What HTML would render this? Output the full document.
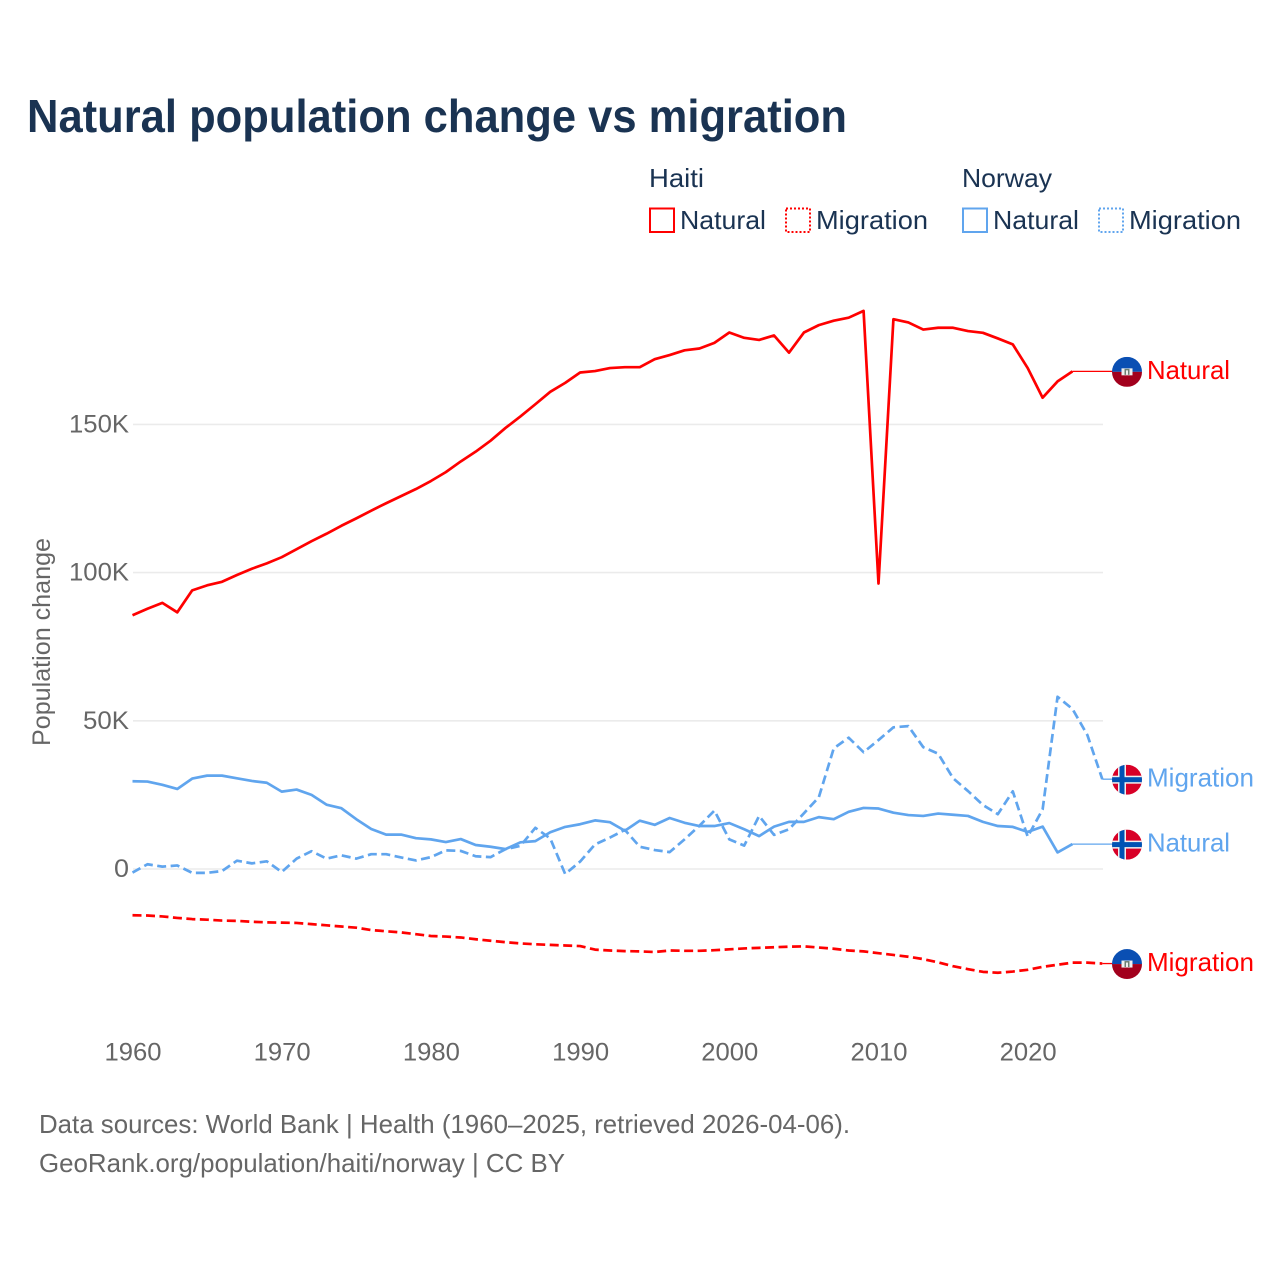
<!DOCTYPE html>
<html lang="en">
<head>
<meta charset="utf-8">
<title>Natural population change vs migration</title>
<style>
html,body{margin:0;padding:0;background:#fff;}
svg{display:block;font-family:"Liberation Sans",sans-serif;}
</style>
</head>
<body>
<svg id="chart" xmlns="http://www.w3.org/2000/svg" width="1280" height="1280" viewBox="0 0 1280 1280">
  <defs>
    <clipPath id="flag-clip"><circle cx="0" cy="0" r="15"/></clipPath>
  </defs>
  <rect x="0" y="0" width="1280" height="1280" fill="#fff"/>
  <text x="27" y="132" font-size="46" font-weight="700" fill="#1a3352" textLength="820" lengthAdjust="spacingAndGlyphs">Natural population change vs migration</text>

  <g font-size="26" fill="#1a3352">
    <text x="649" y="187" textLength="55" lengthAdjust="spacingAndGlyphs">Haiti</text>
    <text x="962" y="187" textLength="90" lengthAdjust="spacingAndGlyphs">Norway</text>
    <rect x="650" y="208.500" width="24" height="23.500" fill="none" stroke="#ff0000" stroke-width="2"/>
    <text x="680" y="229" textLength="86" lengthAdjust="spacingAndGlyphs">Natural</text>
    <rect x="786" y="208.500" width="24" height="23.500" fill="none" stroke="#ff0000" stroke-width="2" stroke-dasharray="2,2"/>
    <text x="816" y="229" textLength="112" lengthAdjust="spacingAndGlyphs">Migration</text>
    <rect x="963" y="208.500" width="24" height="23.500" fill="none" stroke="#60a5ee" stroke-width="2"/>
    <text x="993" y="229" textLength="86" lengthAdjust="spacingAndGlyphs">Natural</text>
    <rect x="1099" y="208.500" width="24" height="23.500" fill="none" stroke="#60a5ee" stroke-width="2" stroke-dasharray="2,2"/>
    <text x="1129" y="229" textLength="112" lengthAdjust="spacingAndGlyphs">Migration</text>
  </g>

  <g id="grid"></g>
  <g id="axes"></g>
  <text transform="translate(50,746) rotate(-90)" font-size="25" fill="#666" textLength="208" lengthAdjust="spacingAndGlyphs">Population change</text>
  <g id="series"></g>
  <g id="endcaps"></g>

  <g font-size="26" fill="#666">
    <text x="39" y="1133" textLength="811" lengthAdjust="spacingAndGlyphs">Data sources: World Bank | Health (1960–2025, retrieved 2026-04-06).</text>
    <text x="39" y="1172" textLength="526" lengthAdjust="spacingAndGlyphs">GeoRank.org/population/haiti/norway | CC BY</text>
  </g>
</svg>
<script>
const startYear = 1960;
const xTickYears = [1960, 1970, 1980, 1990, 2000, 2010, 2020];
const yTickValues = [0, 50, 100, 150];
const yTickLabels = ["0", "50K", "100K", "150K"];

// Values in thousands, one per year from 1960.
const haitiNatural = [85.6,87.8,89.8,86.6,94.0,95.7,96.9,99.2,101.3,103.1,105.2,107.9,110.6,113.1,115.8,118.3,120.9,123.4,125.8,128.2,130.9,133.9,137.5,140.8,144.5,148.8,152.7,156.8,161.0,164.0,167.5,168.0,169.0,169.3,169.3,172.0,173.4,175.0,175.6,177.5,181.0,179.2,178.5,180.0,174.2,181.0,183.5,185.0,186.0,188.3,96.3,185.5,184.4,182.0,182.6,182.6,181.5,180.9,179.0,177.0,169.0,159.0,164.5,167.9];
const haitiMigration = [-15.6,-15.7,-16.0,-16.5,-16.9,-17.1,-17.4,-17.5,-17.8,-18.0,-18.1,-18.2,-18.6,-19.0,-19.4,-19.8,-20.6,-21.0,-21.4,-22.0,-22.6,-22.8,-23.1,-23.7,-24.2,-24.7,-25.1,-25.4,-25.6,-25.8,-26.0,-27.2,-27.5,-27.7,-27.8,-28.0,-27.5,-27.6,-27.6,-27.4,-27.1,-26.8,-26.6,-26.4,-26.2,-26.1,-26.5,-26.9,-27.5,-27.8,-28.4,-29.0,-29.6,-30.4,-31.5,-32.8,-33.8,-34.7,-35.0,-34.6,-34.0,-33.0,-32.3,-31.6,-31.6,-31.9];
const norwayNatural = [29.6,29.5,28.4,27.0,30.5,31.5,31.5,30.6,29.7,29.1,26.1,26.8,25.0,21.7,20.5,16.8,13.5,11.6,11.6,10.4,10.0,9.1,10.1,8.1,7.5,6.7,9.0,9.4,12.4,14.2,15.1,16.4,15.8,12.9,16.3,14.9,17.2,15.6,14.5,14.5,15.5,13.4,11.1,14.3,15.9,15.9,17.5,16.8,19.3,20.6,20.4,19.0,18.2,17.9,18.7,18.3,17.9,15.9,14.5,14.2,12.5,14.3,5.6,8.4];
const norwayMigration = [-1.2,1.6,0.8,1.2,-1.3,-1.3,-0.7,2.8,1.9,2.6,-1.0,3.5,6.0,3.5,4.6,3.5,5.0,5.0,3.9,2.9,4.0,6.3,6.1,4.3,4.0,6.7,7.8,13.9,10.3,-1.7,2.5,8.3,10.6,13.2,7.5,6.4,5.7,10.0,14.6,19.7,10.0,7.9,17.9,11.5,13.4,18.8,24.2,40.7,44.3,39.4,43.5,47.8,48.2,41.1,38.9,30.6,26.3,21.6,18.5,26.2,10.9,20.1,58.1,54.0,45.2,30.3];

const NS = "http://www.w3.org/2000/svg";
const RED = "#ff0000";
const BLUE = "#60a5ee";

function xScale(year) { return 132.5 + (year - startYear) * 14.92; }
function yScale(value) { return 869 - value * 2.964; }

function make(tag, attrs, parent) {
  const el = document.createElementNS(NS, tag);
  for (const k in attrs) el.setAttribute(k, attrs[k]);
  parent.appendChild(el);
  return el;
}

const grid = document.getElementById("grid");
const axes = document.getElementById("axes");
const series = document.getElementById("series");
const endcaps = document.getElementById("endcaps");

yTickValues.forEach(function (v, i) {
  const line = make("line", { x1: 133, x2: 1103, y1: yScale(v), y2: yScale(v), stroke: "#ebebeb", "stroke-width": 1.600 }, grid);
  
  
  const label = make("text", { x: 129, y: yScale(v) + 8, "text-anchor": "end", "font-size": 25, fill: "#666" }, axes);
  
  
  label.setAttribute("textLength", yTickLabels[i].length === 1 ? 15 : (yTickLabels[i].length === 3 ? 46 : 60));
  label.setAttribute("lengthAdjust", "spacingAndGlyphs");
  label.textContent = yTickLabels[i];
});

xTickYears.forEach(function (year) {
  const label = make("text", { x: xScale(year) + 0.500, y: 1060.500, "text-anchor": "middle", "font-size": 25, fill: "#666", textLength: 57, lengthAdjust: "spacingAndGlyphs" }, axes);
  
  
  label.textContent = year;
});

function drawSeries(values, color, dashed) {
  const d = values.map(function (v, i) {
    return (i ? "L" : "M") + xScale(startYear + i).toFixed(2) + " " + yScale(v).toFixed(2);
  }).join("");
  const path = make("path", { d: d, fill: "none", stroke: color, "stroke-width": 2.700, "stroke-linejoin": "round" }, series);
  if (dashed) path.setAttribute("stroke-dasharray", "9,4.500");
  return path;
}

const lineHaitiNatural = drawSeries(haitiNatural, RED, false);


const lineHaitiMigration = drawSeries(haitiMigration, RED, true);


const lineNorwayNatural = drawSeries(norwayNatural, BLUE, false);


const lineNorwayMigration = drawSeries(norwayMigration, BLUE, true);



function drawHaitiFlag(g) {
  const c = make("g", { "clip-path": "url(#flag-clip)" }, g);
  make("rect", { x: -15, y: -15, width: 30, height: 15, fill: "#0a4fb3" }, c);
  make("rect", { x: -15, y: 0, width: 30, height: 15, fill: "#a2001d" }, c);
  make("rect", { x: -5.500, y: -3.500, width: 11, height: 7, fill: "#f0f0f0" }, c);
  make("rect", { x: -2.500, y: -3, width: 5, height: 6, fill: "#6d7f73" }, c);
  make("rect", { x: -1, y: -1.500, width: 2, height: 4.500, fill: "#f0f0f0" }, c);
}

function drawNorwayFlag(g) {
  const c = make("g", { "clip-path": "url(#flag-clip)" }, g);
  make("rect", { x: -15, y: -15, width: 30, height: 30, fill: "#d80027" }, c);
  make("rect", { x: -15, y: -4, width: 30, height: 8, fill: "#f0f0f0" }, c);
  make("rect", { x: -9, y: -15, width: 8, height: 30, fill: "#f0f0f0" }, c);
  make("rect", { x: -15, y: -2.500, width: 30, height: 5, fill: "#0052b4" }, c);
  make("rect", { x: -7.500, y: -15, width: 5, height: 30, fill: "#0052b4" }, c);
}

function drawEndCap(values, color, text, drawFlag, textWidth) {
  const lastX = xScale(startYear + values.length - 1);
  const lastY = yScale(values[values.length - 1]);
  const group = make("g", {}, endcaps);
  const leader = make("line", { x1: lastX, x2: 1113, y1: lastY, y2: lastY, stroke: color, "stroke-width": 1.300 }, group);
  
  
  const flag = make("g", { transform: "translate(1127," + (lastY + 0.500) + ")" }, group);
  
  
  drawFlag(flag);
  const label = make("text", { x: 1147, y: lastY + 7.500, "font-size": 26, fill: color, textLength: textWidth, lengthAdjust: "spacingAndGlyphs" }, group);
  
  
  label.textContent = text;
}

drawEndCap(haitiNatural, RED, "Natural", drawHaitiFlag, 83);
drawEndCap(norwayMigration, BLUE, "Migration", drawNorwayFlag, 107);
drawEndCap(norwayNatural, BLUE, "Natural", drawNorwayFlag, 83);
drawEndCap(haitiMigration, RED, "Migration", drawHaitiFlag, 107);
</script>
</body>
</html>
